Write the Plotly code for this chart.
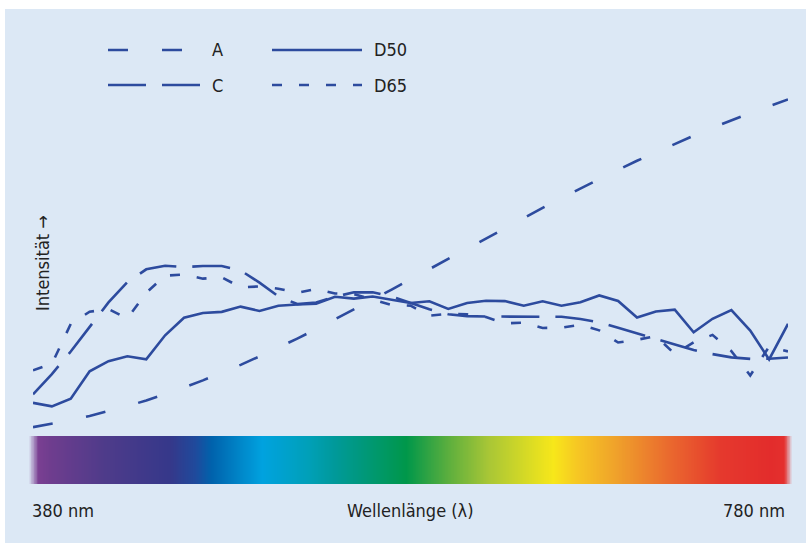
import plotly.graph_objects as go

# ---------------- data (relative spectral power) ----------------
wavelength = list(range(380, 790, 10))  # nm, 380 ... 780

illum_A = [9.8, 12.1, 14.7, 17.7, 21.0, 24.7, 28.7, 33.1, 37.8, 42.9,
           48.2, 53.9, 59.9, 66.1, 72.5, 79.1, 86.0, 92.9, 100.0, 107.2,
           114.4, 121.7, 129.0, 136.3, 143.6, 150.8, 158.0, 165.0, 172.0, 178.8,
           185.4, 191.9, 198.3, 204.4, 210.4, 216.1, 221.7, 227.0, 232.1, 237.0,
           241.7]
illum_C = [33.0, 47.4, 63.3, 80.6, 98.1, 112.4, 121.5, 124.0, 123.1, 123.8,
           123.9, 120.7, 112.1, 102.3, 96.9, 98.0, 102.1, 105.2, 105.3, 102.3,
           97.8, 93.2, 89.7, 88.4, 88.1, 88.0, 87.8, 88.2, 87.9, 86.3,
           84.0, 80.2, 76.3, 72.4, 68.3, 64.4, 61.5, 59.2, 58.1, 58.2,
           59.1]
illum_D50 = [27.0, 24.5, 29.9, 49.3, 56.5, 60.0, 57.8, 74.8, 87.2, 90.6,
             91.4, 95.1, 92.0, 95.7, 96.6, 97.1, 102.1, 100.8, 102.3, 100.0,
             97.7, 98.9, 93.5, 97.7, 99.3, 99.0, 95.7, 98.9, 95.7, 98.2,
             103.0, 99.1, 87.4, 91.6, 92.9, 76.9, 86.5, 92.6, 78.2, 57.7,
             82.9]
illum_D65 = [50.0, 54.6, 82.8, 91.5, 93.4, 86.7, 104.9, 117.0, 117.8, 114.9,
             115.9, 108.8, 109.4, 107.8, 104.8, 107.7, 104.4, 104.0, 100.0, 96.3,
             95.8, 88.7, 90.0, 89.6, 87.7, 83.3, 83.7, 80.0, 80.2, 82.3,
             78.3, 69.7, 71.6, 74.3, 61.6, 69.9, 75.1, 63.6, 46.4, 66.8,
             63.4]

series_names = ["A", "C", "D50", "D65"]
series_values = [illum_A, illum_C, illum_D50, illum_D65]

x_label_left = "380 nm"
x_label_right = "780 nm"
x_title = "Wellenlänge (λ)"
y_title = "Intensität →"

# spectrum strip colour stops (fraction along the strip, colour)
spectrum_pos = [0.0, 0.0131, 0.0301, 0.0982, 0.1859, 0.2186, 0.2395, 0.3063, 0.3665,
                0.4005, 0.4948, 0.5484, 0.6021, 0.6492, 0.6872, 0.7173, 0.7709,
                0.8377, 0.9058, 0.9725, 0.9895, 1.0]
spectrum_col = ["#dce8f5", "#7a3f92", "#6e3d8e", "#4f3b8a", "#35388a", "#1f4a9c", "#0062ac",
                "#00a2df", "#00a0b8", "#00999a", "#00974a", "#5aae3e", "#a8c636", "#d4d926",
                "#f7e71a", "#f6c823", "#efa02b", "#ea6a2e", "#e5392d", "#e32c2c", "#e4302e",
                "#dce8f5"]

# ---------------- style ----------------
LINE = "#2d4b9e"
BG = "#dce8f5"
TXT = "#222222"
FONT = "Liberation Sans Narrow, DejaVu Sans Condensed, Arial Narrow, sans-serif"
dashes = {"A": "20px,34px", "C": "38px,16px", "D50": "solid", "D65": "10px,17px"}

W, H = 806, 543
ML, MR, MT, MB = 28, 14, 17, 59
PW, PH = W - ML - MR, H - MT - MB


def px(xp):
    return (xp - ML) / PW


def py(yp):
    return (H - MB - yp) / PH


fig = go.Figure()

# spectrum strip
strip_x = [i / 500 for i in range(501)]
fig.add_trace(go.Heatmap(
    x=strip_x, y=[0, 1], z=[strip_x, strip_x],
    zmin=0, zmax=1, zsmooth="best",
    colorscale=[[p, c] for p, c in zip(spectrum_pos, spectrum_col)],
    showscale=False, hoverinfo="skip", xaxis="x2", yaxis="y2"))

for name, vals in zip(series_names, series_values):
    fig.add_trace(go.Scatter(
        x=wavelength, y=vals, mode="lines", name=name,
        line=dict(color=LINE, width=2.6, dash=dashes[name]),
        showlegend=False, hoverinfo="skip"))

shapes = [dict(type="rect", xref="paper", yref="paper", layer="below",
               x0=px(5), x1=px(810), y0=py(548), y1=py(9),
               fillcolor=BG, line=dict(width=0))]

# legend samples
leg = [("A", 108, 200, 50, 210), ("C", 108, 200, 85, 210),
       ("D50", 272, 362, 50, 372), ("D65", 272, 362, 85, 372)]
annotations = []
for name, x0, x1, yy, tx in leg:
    shapes.append(dict(type="line", xref="paper", yref="paper",
                       x0=px(x0), x1=px(x1), y0=py(yy), y1=py(yy),
                       line=dict(color=LINE, width=2.6, dash=dashes[name])))
    annotations.append(dict(text=name, xref="paper", yref="paper", x=px(tx), y=py(yy),
                            xanchor="left", yanchor="middle", showarrow=False,
                            font=dict(family=FONT, size=18, color=TXT)))

annotations += [
    dict(text=x_label_left, xref="paper", yref="paper", x=px(30), y=py(510),
         xanchor="left", yanchor="middle", showarrow=False,
         font=dict(family=FONT, size=18, color=TXT)),
    dict(text=x_title, xref="paper", yref="paper", x=px(410), y=py(510),
         xanchor="center", yanchor="middle", showarrow=False,
         font=dict(family=FONT, size=18, color=TXT)),
    dict(text=x_label_right, xref="paper", yref="paper", x=px(787), y=py(510),
         xanchor="right", yanchor="middle", showarrow=False,
         font=dict(family=FONT, size=18, color=TXT)),
    dict(text=y_title, xref="paper", yref="paper", x=px(42), y=py(263),
         xanchor="center", yanchor="middle", textangle=-90, showarrow=False,
         font=dict(family=FONT, size=18, color=TXT)),
]

fig.update_layout(
    width=W, height=H,
    margin=dict(l=ML, r=MR, t=MT, b=MB, pad=0),
    paper_bgcolor="white", plot_bgcolor="rgba(0,0,0,0)",
    xaxis=dict(domain=[px(33), px(788)], range=[380, 780], visible=False, fixedrange=True),
    yaxis=dict(domain=[py(441), 1], range=[0, (441 - MT) / 1.413], visible=False, fixedrange=True),
    xaxis2=dict(domain=[0, 1], range=[0, 1], visible=False, anchor="y2", fixedrange=True),
    yaxis2=dict(domain=[0, py(436)], range=[-0.5, 1.5], visible=False, anchor="x2", fixedrange=True),
    shapes=shapes, annotations=annotations,
)

fig.write_html("out.html", config={"displayModeBar": False})
